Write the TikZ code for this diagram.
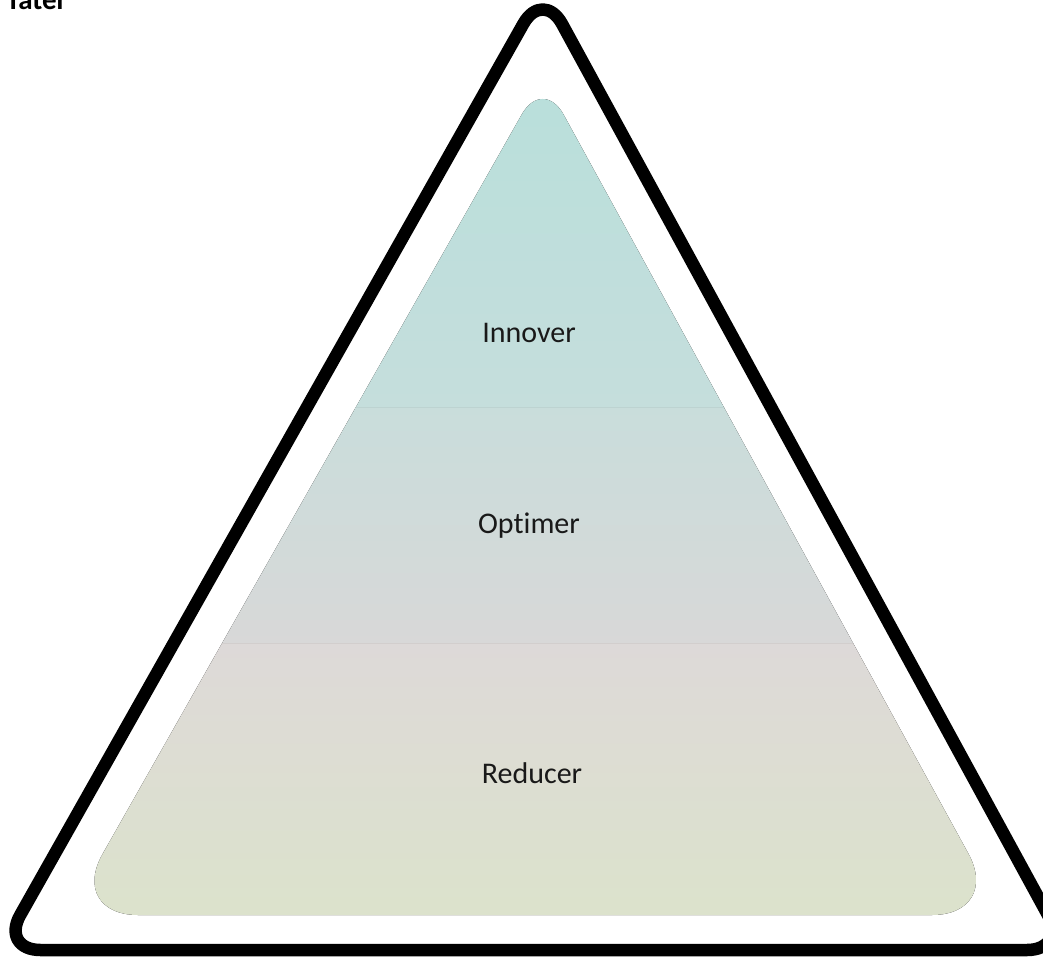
\documentclass[tikz,border=0pt]{standalone}
\usepackage{fontspec}
\setmainfont[Ligatures={NoCommon}]{Carlito}
\definecolor{tA}{HTML}{B8DFDB}
\definecolor{tB}{HTML}{C5DEDC}
\definecolor{mA}{HTML}{C9DDDB}
\definecolor{mB}{HTML}{D8D8D8}
\definecolor{bA}{HTML}{DDD9D8}
\definecolor{bB}{HTML}{DCE3CB}
\definecolor{sepA}{HTML}{BDD3D1}
\definecolor{sepB}{HTML}{D2CECD}
\tikzset{
  label text/.style={anchor=base, font=\fontsize{30}{32}\selectfont, text=black!90},
  outline/.style={draw=black, line width=12.5pt, line join=round},
}
\begin{document}
\begin{tikzpicture}[x=1pt,y=-1pt]
\useasboundingbox (0,0) rectangle (1043,957);
\clip (0,0) rectangle (1043,957);
% inner gradient pyramid
\begin{scope}
  \clip (535,915) [rounded corners=70] -- (1002,915) [rounded corners=43] -- (543,77) [rounded corners=70] -- (68,915) -- cycle;
  \fill[top color=tA, bottom color=tB] (40,60) rectangle (1020,407);
  \fill[top color=mA, bottom color=mB] (40,407) rectangle (1020,643);
  \fill[top color=bA, bottom color=bB] (40,643) rectangle (1020,930);
  \draw[sepA, line width=0.8pt] (40,407) -- (1020,407);
  \draw[sepB, line width=0.8pt] (40,643) -- (1020,643);
\end{scope}
% outer triangle
\draw[outline, rounded corners=40] (535,950) -- (1067,950) -- (543,-11) -- (0.5,950) -- cycle;
% labels
\node[label text] (inn) at (529,342) {Innover};
\node[label text] (opt) at (529,533) {Optimer};
\node[label text] (red) at (532,783) {Reducer};
\node[anchor=base west, font=\bfseries\fontsize{29}{31}\selectfont, inner sep=0pt] (tit) at (6,10) {Tater};
\end{tikzpicture}
\end{document}
